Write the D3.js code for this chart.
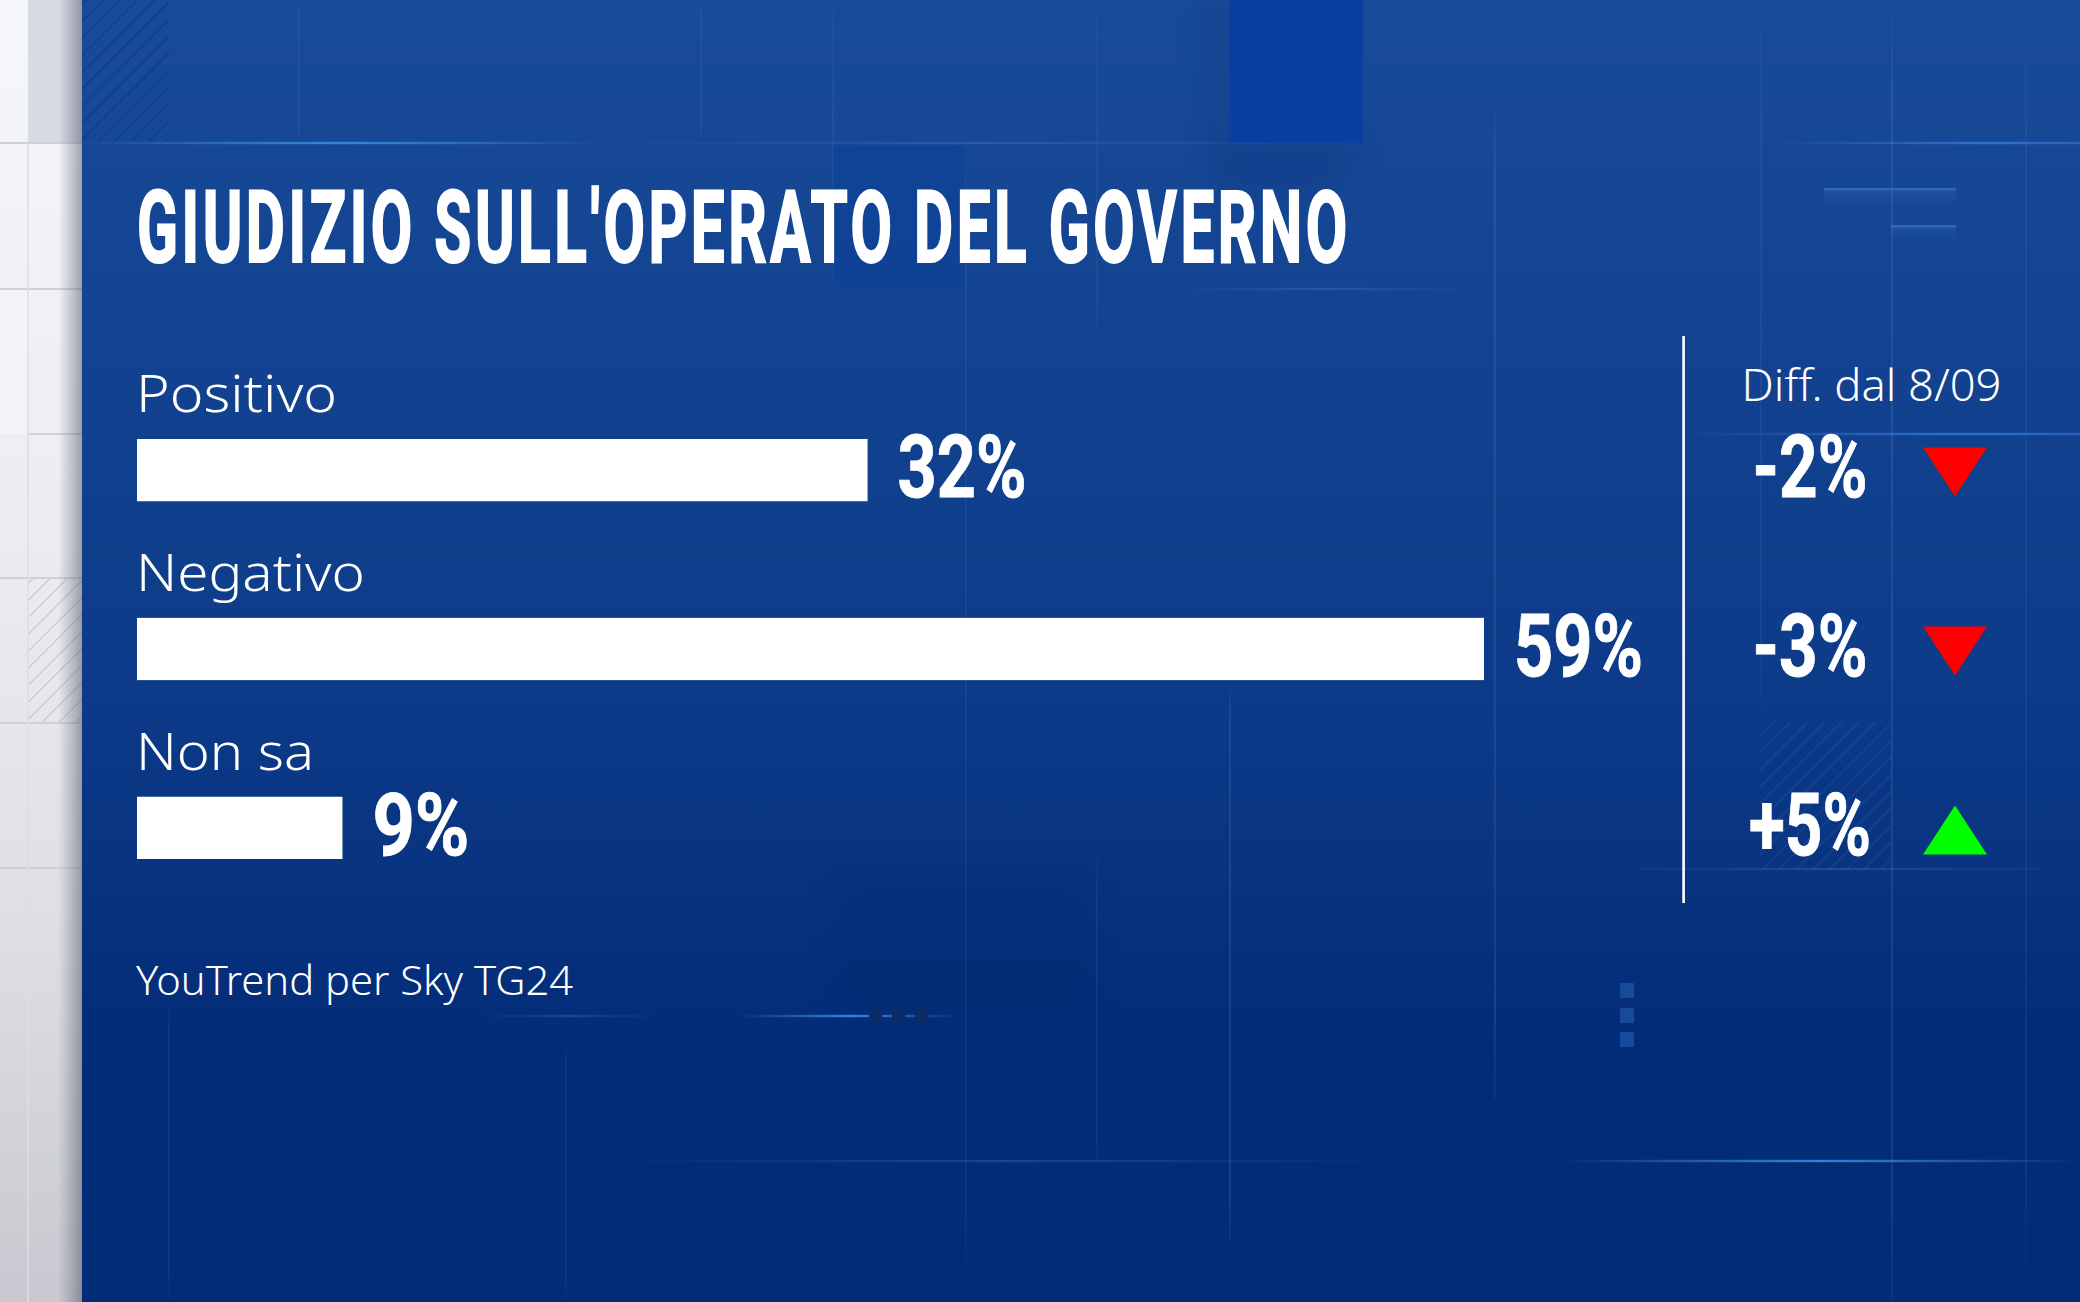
<!DOCTYPE html>
<html><head><meta charset="utf-8">
<script src="https://cdn.jsdelivr.net/npm/d3@7"></script>
<style>html,body{margin:0;padding:0;background:#fff;overflow:hidden}svg{display:block}</style>
</head><body><svg id="c" width="2080" height="1302" viewBox="0 0 2080 1302"></svg>
<script>
// ---- data ----
const titleText = "GIUDIZIO SULL'OPERATO DEL GOVERNO";
const categories = ["Positivo", "Negativo", "Non sa"];
const values = [32, 59, 9];
const diffs = [-2, -3, 5];
const diffHeader = "Diff. dal 8/09";
const sourceText = "YouTrend per Sky TG24";

const W = 2080, H = 1302;
const HEAVY = "'Liberation Sans Narrow','Roboto',sans-serif";
const LIGHT = "'Noto Sans','Open Sans',sans-serif";
const svg = d3.select("#c");
const defs = svg.append("defs");

function vGrad(id, stops){
  const g = defs.append("linearGradient").attr("id", id).attr("x1",0).attr("y1",0).attr("x2",0).attr("y2",1);
  stops.forEach(s=>g.append("stop").attr("offset",s[0]).attr("stop-color",s[1]).attr("stop-opacity",s[2]===undefined?1:s[2]));
}
function hGrad(id, stops){
  const g = defs.append("linearGradient").attr("id", id).attr("x1",0).attr("y1",0).attr("x2",1).attr("y2",0);
  stops.forEach(s=>g.append("stop").attr("offset",s[0]).attr("stop-color",s[1]).attr("stop-opacity",s[2]===undefined?1:s[2]));
}
vGrad("panel",[[0,"#184b98"],[0.3,"#12428f"],[0.55,"#0c3a88"],[0.8,"#032c78"],[1,"#032c76"]]);
vGrad("strip",[[0,"#f6f7fa"],[0.4,"#ecedf2"],[0.7,"#dfe0e5"],[1,"#c8c9d0"]]);
hGrad("edge",[[0,"#5a6070",0],[1,"#4a5060",0.5]]);
hGrad("glowA",[[0,"#4aa0f0",0],[0.5,"#3f8fe8",0.85],[1,"#4aa0f0",0]]);
hGrad("glowB",[[0,"#3a7fe0",0],[0.7,"#3a7fe0",0.75],[1,"#3a7fe0",0.5]]);
hGrad("glowF",[[0,"#6f9ce0",0],[0.5,"#6f9ce0",0.22],[1,"#6f9ce0",0]]);
vGrad("vfade",[[0,"#7fa6e0",0],[0.1,"#7fa6e0",0.1],[0.9,"#7fa6e0",0.1],[1,"#7fa6e0",0]]);
vGrad("vfadeS",[[0,"#8fb4ea",0],[0.08,"#8fb4ea",0.17],[0.92,"#8fb4ea",0.17],[1,"#8fb4ea",0.06]]);
vGrad("band",[[0,"#3a6cc0",0.28],[1,"#3a6cc0",0.04]]);
function hatch(id, color, op, sw){
  const p = defs.append("pattern").attr("id",id).attr("width",12).attr("height",12)
    .attr("patternUnits","userSpaceOnUse").attr("patternTransform","rotate(45)");
  p.append("line").attr("x1",0).attr("y1",0).attr("x2",0).attr("y2",12).attr("stroke",color).attr("stroke-opacity",op).attr("stroke-width",sw);
}
hatch("hatchD","#0b3a86",.55,4);
hatch("hatchP","#6d95d6",.13,3);
hatch("hatchG","#b2b4c2",1,1.6);
defs.append("filter").attr("id","soft").attr("x","-30%").attr("y","-30%").attr("width","160%").attr("height","160%")
  .append("feGaussianBlur").attr("stdDeviation",12);

// ---- left strip ----
const bg = svg.append("g");
bg.append("rect").attr("width",82).attr("height",H).attr("fill","url(#strip)");
bg.append("rect").attr("x",28).attr("width",54).attr("height",143).attr("fill","#d6dbe4");
bg.append("rect").attr("x",0).attr("y",289).attr("width",28).attr("height",145).attr("fill","#f3f4f7");
bg.append("rect").attr("x",28).attr("y",578).attr("width",54).attr("height",145).attr("fill","url(#hatchG)");
[[0,82,143],[0,82,289],[28,82,434],[0,82,578],[0,82,723],[0,82,868],[0,82,1157]].forEach(d=>
  bg.append("line").attr("x1",d[0]).attr("x2",d[1]).attr("y1",d[2]).attr("y2",d[2]).attr("stroke","#cfd1da").attr("stroke-width",2));
bg.append("line").attr("x1",28).attr("x2",28).attr("y1",143).attr("y2",H).attr("stroke","#dcdee4").attr("stroke-width",1.5);
bg.append("rect").attr("x",58).attr("width",24).attr("height",H).attr("fill","url(#edge)");

// ---- panel ----
bg.append("rect").attr("x",82).attr("width",W-82).attr("height",H).attr("fill","url(#panel)");
bg.append("rect").attr("x",832).attr("y",145).attr("width",132).attr("height",142).attr("fill","#0a3f98").attr("opacity",.5);
bg.append("rect").attr("x",832).attr("y",866).attr("width",264).attr("height",146).attr("fill","#02265f").attr("opacity",.16).attr("filter","url(#soft)");
bg.append("rect").attr("x",82).attr("width",87).attr("height",141).attr("fill","url(#hatchD)");
bg.append("rect").attr("x",1760).attr("y",722).attr("width",131).attr("height",147).attr("fill","url(#hatchP)");

// faint vertical rules
[[298,0,143],[700,0,143],[832,0,290],[965,143,1302],[1096,0,340],[1760,0,720],[2025,0,1302],
 [1096,850,1170],[168,1000,1302],[565,1040,1302]].forEach(d=>
  bg.append("rect").attr("x",d[0]).attr("y",d[1]).attr("width",1.6).attr("height",d[2]-d[1]).attr("fill","url(#vfade)"));
[[1494,95,1100],[1891,0,1302],[1229,680,1240]].forEach(d=>
  bg.append("rect").attr("x",d[0]).attr("y",d[1]).attr("width",1.6).attr("height",d[2]-d[1]).attr("fill","url(#vfadeS)"));

// blue block at the top with its shadow
bg.append("path").attr("d","M1200,0H1229V143H1363L1330,190H1215Z").attr("fill","#0b327e").attr("opacity",.3).attr("filter","url(#soft)");
bg.append("rect").attr("x",1229).attr("width",134).attr("height",143).attr("fill","#0a3fa0");

// glow lines
[[82,600,143,"glowA"],[600,1360,143,"glowF"],[1770,2080,143,"glowB"],[1180,1470,289,"glowF"],[1683,2080,434,"glowB"],
 [480,660,1016,"glowF"],[740,960,1016,"glowA"],[610,1400,1161,"glowF"],[1560,2080,1161,"glowA"],[1600,2080,869,"glowF"]].forEach(d=>
  bg.append("rect").attr("x",d[0]).attr("y",d[2]-1.2).attr("width",d[1]-d[0]).attr("height",2.4).attr("fill","url(#"+d[3]+")"));

// small bands at top right
bg.append("rect").attr("x",1824).attr("y",188).attr("width",132).attr("height",17).attr("fill","url(#band)");
bg.append("rect").attr("x",1824).attr("y",188).attr("width",132).attr("height",2.5).attr("fill","#3a6fc8").attr("opacity",.7);
bg.append("rect").attr("x",1891).attr("y",225).attr("width",65).attr("height",14).attr("fill","url(#band)");
bg.append("rect").attr("x",1891).attr("y",225).attr("width",65).attr("height",2.5).attr("fill","#3a6fc8").attr("opacity",.7);

// dotted bits
[869,892,915].forEach(x=>bg.append("rect").attr("x",x).attr("y",1008).attr("width",13).attr("height",16).attr("fill","#0a2a68"));
[983,1008,1032].forEach(y=>bg.append("rect").attr("x",1620).attr("y",y).attr("width",14).attr("height",15).attr("fill","#184a9c"));

// ---- chart ----
const x = d3.scaleLinear().domain([0,59]).range([137,1484]);
const y = d3.scaleBand().domain(categories).range([439,859]).paddingInner(0.652);
const rows = categories.map((c,i)=>({c, v:values[i], d:diffs[i]}));
const pct = d => d + "%";
const sgn = d => (d>0?"+":"") + d + "%";

// the title is condensed horizontally with a transform so that it spans the measured width
const title = svg.append("text").attr("x",0).attr("y",0).attr("fill","#fff").attr("stroke","#fff").attr("stroke-width",2.2)
  .attr("font-family",HEAVY).attr("font-weight",700).attr("font-size",101).attr("letter-spacing",6).text(titleText);
const tw = title.node().getComputedTextLength();
title.attr("transform",`translate(137,262) scale(${1214/tw},1)`);

const g = svg.append("g");
g.selectAll("rect.bar").data(rows).join("rect").attr("class","bar")
  .attr("x",x(0)).attr("y",d=>y(d.c)).attr("width",d=>x(d.v)-x(0)).attr("height",y.bandwidth()).attr("fill","#fff");

const labelW = {"Positivo":201,"Negativo":229,"Non sa":178};
g.selectAll("text.cat").data(rows).join("text").attr("class","cat")
  .attr("x",136).attr("y",d=>y(d.c)-27).attr("fill","#fff").attr("font-family",LIGHT).attr("font-weight",300).attr("font-size",52)
  .attr("textLength",d=>labelW[d.c]).attr("lengthAdjust","spacingAndGlyphs").text(d=>d.c);

const valW = d=> d.v===9 ? 97 : 129;
const bold = s => s.attr("stroke","#fff").attr("stroke-width",0.9);
g.selectAll("text.val").data(rows).join("text").attr("class","val")
  .attr("x",d=>x(d.v)+30).attr("y",d=>y(d.c)+y.bandwidth()-4).attr("fill","#fff")
  .attr("font-family",HEAVY).attr("font-weight",700).attr("font-size",87)
  .attr("textLength",valW).attr("lengthAdjust","spacingAndGlyphs").text(d=>pct(d.v)).call(bold);

// divider and difference column
svg.append("rect").attr("x",1682.3).attr("y",336).attr("width",2.6).attr("height",567).attr("fill","#fff");
svg.append("text").attr("x",1741.5).attr("y",401).attr("fill","#fff").attr("font-family",LIGHT).attr("font-weight",300).attr("font-size",44)
  .attr("textLength",260).attr("lengthAdjust","spacingAndGlyphs").text(diffHeader);

const diffX = d3.scalePoint().domain(["num","tri"]).range([1810,1955]);
g.selectAll("text.diff").data(rows).join("text").attr("class","diff")
  .attr("x",diffX("num")).attr("y",d=>y(d.c)+y.bandwidth()-4).attr("fill","#fff").attr("text-anchor","middle")
  .attr("font-family",HEAVY).attr("font-weight",700).attr("font-size",87)
  .attr("textLength",d=>d.d>0?122:115).attr("lengthAdjust","spacingAndGlyphs").text(d=>sgn(d.d)).call(bold);

function tri(up){
  const p = d3.path(), w=32, h=49;
  if(up){p.moveTo(-w,h/2);p.lineTo(w,h/2);p.lineTo(0,-h/2);}
  else{p.moveTo(-w,-h/2);p.lineTo(w,-h/2);p.lineTo(0,h/2);}
  p.closePath();return p.toString();
}
g.selectAll("path.tri").data(rows).join("path").attr("class","tri")
  .attr("transform",d=>`translate(${diffX("tri")},${y(d.c)+y.bandwidth()/2+2})`)
  .attr("d",d=>tri(d.d>0)).attr("fill",d=>d.d>0?"#00ff00":"#ff0000");

svg.append("text").attr("x",136).attr("y",995).attr("fill","#fff").attr("font-family",LIGHT).attr("font-weight",300).attr("font-size",41)
  .attr("textLength",437).attr("lengthAdjust","spacingAndGlyphs").text(sourceText);
</script></body></html>
